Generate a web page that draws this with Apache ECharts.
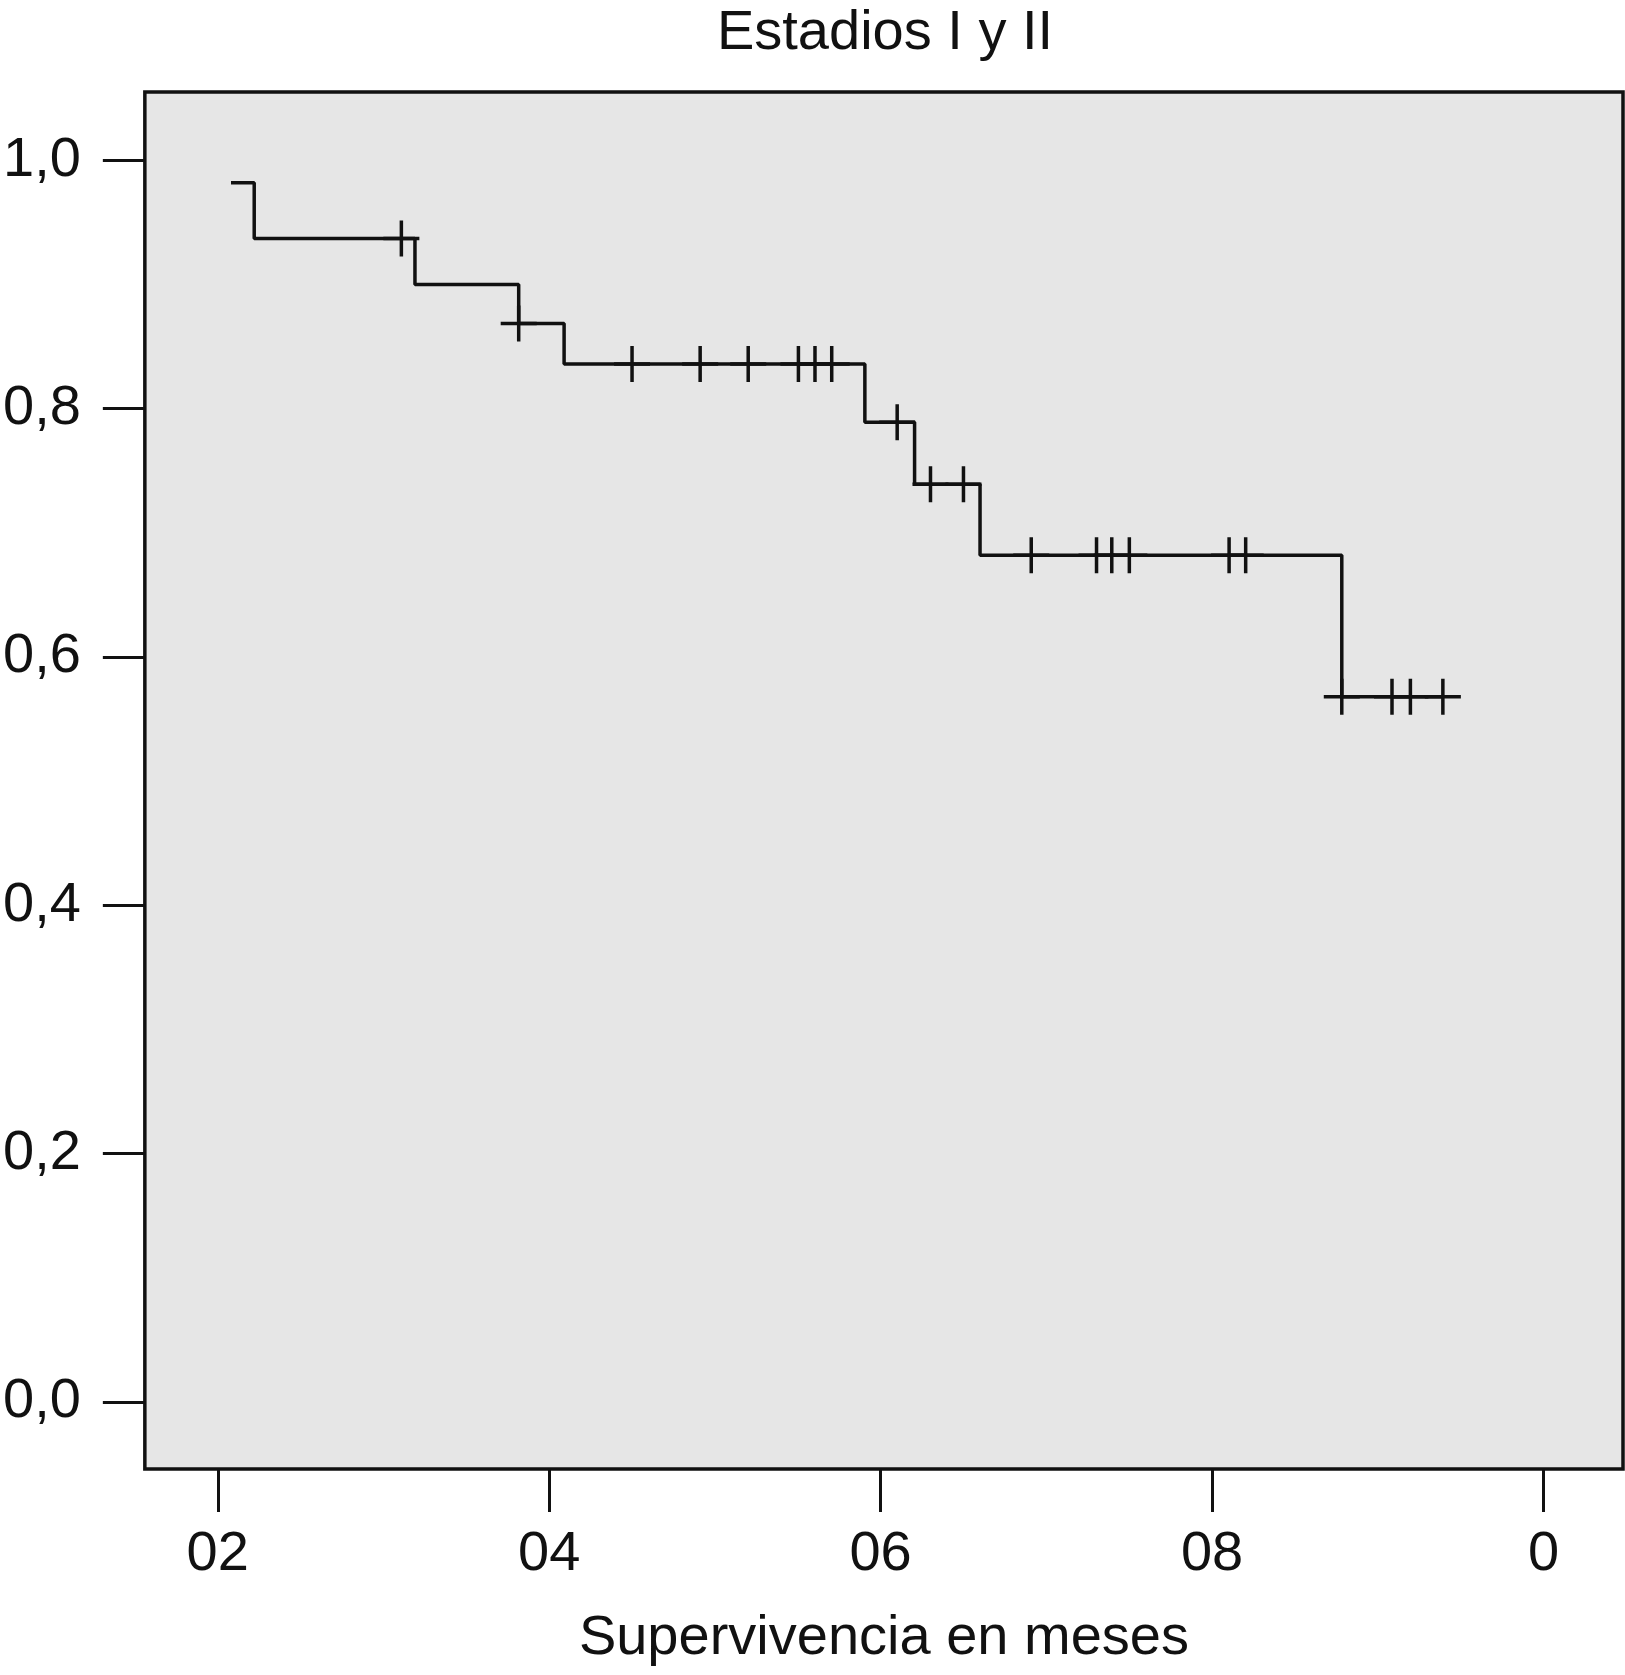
<!DOCTYPE html>
<html>
<head>
<meta charset="utf-8">
<script src="https://cdn.jsdelivr.net/npm/echarts@6/dist/echarts.min.js"></script>
<style>
html,body{margin:0;padding:0;background:#fff;}
#chart{width:1625px;height:1675px;}
</style>
</head>
<body>
<div id="chart"></div>
<script>
// ---- data ----
var titleText = 'Estadios I y II';
var xAxisTitle = 'Supervivencia en meses';
var xTickValues = [20, 40, 60, 80, 100];
var xTickLabels = ['02', '04', '06', '08', '0'];
var yTickValues = [0, 0.2, 0.4, 0.6, 0.8, 1.0];
var yTickLabels = ['0,0', '0,2', '0,4', '0,6', '0,8', '1,0'];

var startTime = 20.8;
var startSurvival = 0.982;
var eventTimes = [22.2, 31.9, 38.16, 40.9, 59.05, 62.05, 66.0, 87.83];
var eventSurvival = [0.937, 0.900, 0.8685, 0.836, 0.789, 0.739, 0.682, 0.568];
var censorTimes = [31.08, 38.16, 45.0, 49.11, 52.01, 55.04, 56.04, 57.05, 61.0, 63.01, 65.0,
                   69.09, 73.03, 73.95, 75.01, 81.03, 82.03, 87.83, 90.86, 91.97, 93.93];

// ---- build series ----
function survivalAt(t) {
  var s = startSurvival;
  for (var i = 0; i < eventTimes.length; i++) {
    if (t >= eventTimes[i] - 1e-9) s = eventSurvival[i];
  }
  return s;
}
var stepData = [[startTime, startSurvival]];
for (var i = 0; i < eventTimes.length; i++) stepData.push([eventTimes[i], eventSurvival[i]]);
var lastT = censorTimes[censorTimes.length - 1];
stepData.push([lastT, survivalAt(lastT)]);
var censorData = censorTimes.map(function (t) { return [t, survivalAt(t)]; });

var FONT = "'Liberation Sans', Arial, Helvetica, sans-serif";
var INK = '#111111';
var FS = 56;

var chart = echarts.init(document.getElementById('chart'), null, {renderer: 'canvas'});
chart.setOption({
  animation: false,
  backgroundColor: '#ffffff',
  title: {
    text: titleText,
    left: 880,
    textAlign: 'center',
    top: 1,
    textStyle: {fontFamily: FONT, fontSize: FS, fontWeight: 'normal', color: INK}
  },
  grid: {
    left: 139, right: 2, top: 92, bottom: 206,
    show: true,
    backgroundColor: '#e6e6e6',
    borderColor: INK,
    borderWidth: 3.5
  },
  xAxis: {
    type: 'value',
    min: 15.6,
    max: 104.8,
    name: xAxisTitle,
    nameLocation: 'middle',
    nameGap: 142,
    nameTextStyle: {fontFamily: FONT, fontSize: FS, color: INK},
    axisLine: {show: false, onZero: false},
    splitLine: {show: false},
    axisTick: {show: true, inside: false, length: 43, customValues: xTickValues, lineStyle: {color: INK, width: 3}},
    axisLabel: {
      customValues: xTickValues,
      margin: 58,
      fontFamily: FONT, fontSize: FS, color: INK,
      formatter: function (v) {
        var idx = xTickValues.indexOf(v);
        return idx >= 0 ? xTickLabels[idx] : '';
      }
    }
  },
  yAxis: {
    type: 'value',
    min: -0.054,
    max: 1.055,
    axisLine: {show: false, onZero: false},
    splitLine: {show: false},
    axisTick: {show: true, inside: false, length: 42, customValues: yTickValues, lineStyle: {color: INK, width: 3}},
    axisLabel: {
      customValues: yTickValues,
      margin: 64,
      fontFamily: FONT, fontSize: FS, color: INK,
      formatter: function (v) {
        for (var i = 0; i < yTickValues.length; i++) {
          if (Math.abs(yTickValues[i] - v) < 1e-6) return yTickLabels[i];
        }
        return '';
      }
    }
  },
  series: [
    {
      type: 'line',
      step: 'end',
      data: stepData,
      showSymbol: false,
      symbol: 'none',
      lineStyle: {color: INK, width: 3.5},
      silent: true,
      z: 2
    },
    {
      type: 'scatter',
      data: censorData,
      symbol: 'path://M0,0 L0,2 M-1,1 L1,1',
      symbolSize: 36,
      itemStyle: {color: 'none', borderColor: INK, borderWidth: 3.5, opacity: 1},
      silent: true,
      z: 3
    }
  ]
});
</script>
</body>
</html>
